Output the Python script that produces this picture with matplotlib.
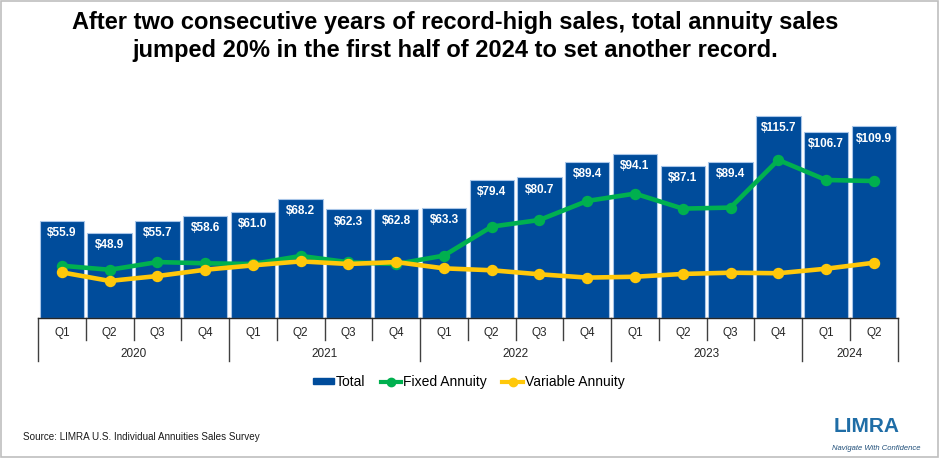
import matplotlib
matplotlib.use("Agg")
import matplotlib.pyplot as plt
import matplotlib.transforms as mtransforms
from matplotlib.patches import Rectangle
from matplotlib.lines import Line2D
import numpy as np

plt.rcParams['font.family'] = ['Liberation Sans', 'DejaVu Sans']

quarters = ["Q1", "Q2", "Q3", "Q4", "Q1", "Q2", "Q3", "Q4", "Q1", "Q2", "Q3", "Q4",
            "Q1", "Q2", "Q3", "Q4", "Q1", "Q2"]
years = ["2020", "2021", "2022", "2023", "2024"]
year_counts = [4, 4, 4, 4, 2]
total = [55.9, 48.9, 55.7, 58.6, 61.0, 68.2, 62.3, 62.8, 63.3, 79.4, 80.7, 89.4,
         94.1, 87.1, 89.4, 115.7, 106.7, 109.9]
fixed = [30.1, 27.8, 32.2, 31.5, 31.1, 35.7, 32.1, 31.1, 35.9, 52.5, 56.3, 67.2,
         71.4, 62.8, 63.4, 90.7, 79.2, 78.6]
variable = [26.3, 21.4, 24.2, 27.8, 30.3, 32.6, 31.1, 32.2, 28.6, 27.5, 25.2, 23.3,
            23.8, 25.4, 26.1, 25.8, 28.4, 31.8]

W, H = 940, 458
fig = plt.figure(figsize=(W / 100, H / 100), dpi=100)
fig.patch.set_facecolor("white")

def fx(px):
    return px / W

def fy(py):
    return 1 - py / H

left, right, top, base = 38, 897.7, 100, 318.3
ax = fig.add_axes([fx(left), fy(base), fx(right - left), (base - top) / H])

x = np.arange(len(total))
blue = "#004C9B"
green = "#00B04F"
yellow = "#FFC80A"

ax.bar(x, total, width=0.93, color=blue, edgecolor="#A9C6E8", linewidth=0.8, zorder=2)
for xi, v in zip(x, total):
    ax.annotate(f"${v:.1f}", (xi, v), xytext=(0, -8.8), textcoords="offset points",
                ha="center", va="center", color="white", fontsize=8.5,
                fontweight="bold", zorder=5)

ax.plot(x, fixed, color=green, lw=3.3, marker="o", ms=7.2, zorder=3)
ax.plot(x, variable, color=yellow, lw=3.3, marker="o", ms=7.2, zorder=4)

ax.set_xlim(-0.5, len(total) - 0.5)
ax.set_ylim(0, 125)
for s in ["left", "right", "top"]:
    ax.spines[s].set_visible(False)
ax.spines["bottom"].set_color("#262626")
ax.spines["bottom"].set_linewidth(1)
ax.set_xticks([])
ax.set_yticks([])

# category table below the axis
tr = mtransforms.blended_transform_factory(ax.transData, fig.transFigure)
line_col = "#404040"
year_bounds = np.cumsum([0] + year_counts)
for i in range(len(total) + 1):
    bottom_px = 361 if i in year_bounds else 340
    ax.add_line(Line2D([i - 0.5, i - 0.5], [fy(base), fy(bottom_px)], transform=tr,
                       color=line_col, lw=1, clip_on=False))
for xi, q in zip(x, quarters):
    fig.text(xi, fy(333), q, transform=tr, ha="center", va="center", fontsize=8.5,
             color="#262626")
for k, yname in enumerate(years):
    c = (year_bounds[k] + year_bounds[k + 1] - 1) / 2
    fig.text(c, fy(354), yname, transform=tr, ha="center", va="center", fontsize=8.5,
             color="#262626")

# title
fig.text(fx(455), fy(22), "After two consecutive years of record-high sales, total annuity sales",
         ha="center", va="center", fontsize=17, fontweight="bold", color="black")
fig.text(fx(455), fy(50), "jumped 20% in the first half of 2024 to set another record.",
         ha="center", va="center", fontsize=17, fontweight="bold", color="black")

# legend
handles = [
    Rectangle((0, 0), 1, 1, facecolor=blue, edgecolor=blue),
    Line2D([0], [0], color=green, lw=3, marker="o", ms=6),
    Line2D([0], [0], color=yellow, lw=3, marker="o", ms=6),
]
leg = fig.legend(handles, ["Total", "Fixed Annuity", "Variable Annuity"],
                 loc="center", bbox_to_anchor=(fx(469), fy(382)), ncol=3, frameon=False,
                 fontsize=10, handlelength=1.5, handleheight=0.35, handletextpad=0.15,
                 columnspacing=1.1)

# source
fig.text(fx(23), fy(437), "Source: LIMRA U.S. Individual Annuities Sales Survey",
         ha="left", va="center", fontsize=7.1, color="#1a1a1a")

# logo
fig.text(fx(867), fy(426), "LIMRA", ha="center", va="center", fontsize=15,
         fontweight="bold", color="#1F6DA6")
fig.text(fx(876), fy(448), "Navigate With Confidence", ha="center", va="center",
         fontsize=5.5, style="italic", color="#1F4E79")

# border
fig.add_artist(Rectangle((0.001, 0.002), 0.997, 0.995, transform=fig.transFigure,
                         fill=False, edgecolor="#BFBFBF", lw=1.2))

fig.savefig("out.png", dpi=100)
